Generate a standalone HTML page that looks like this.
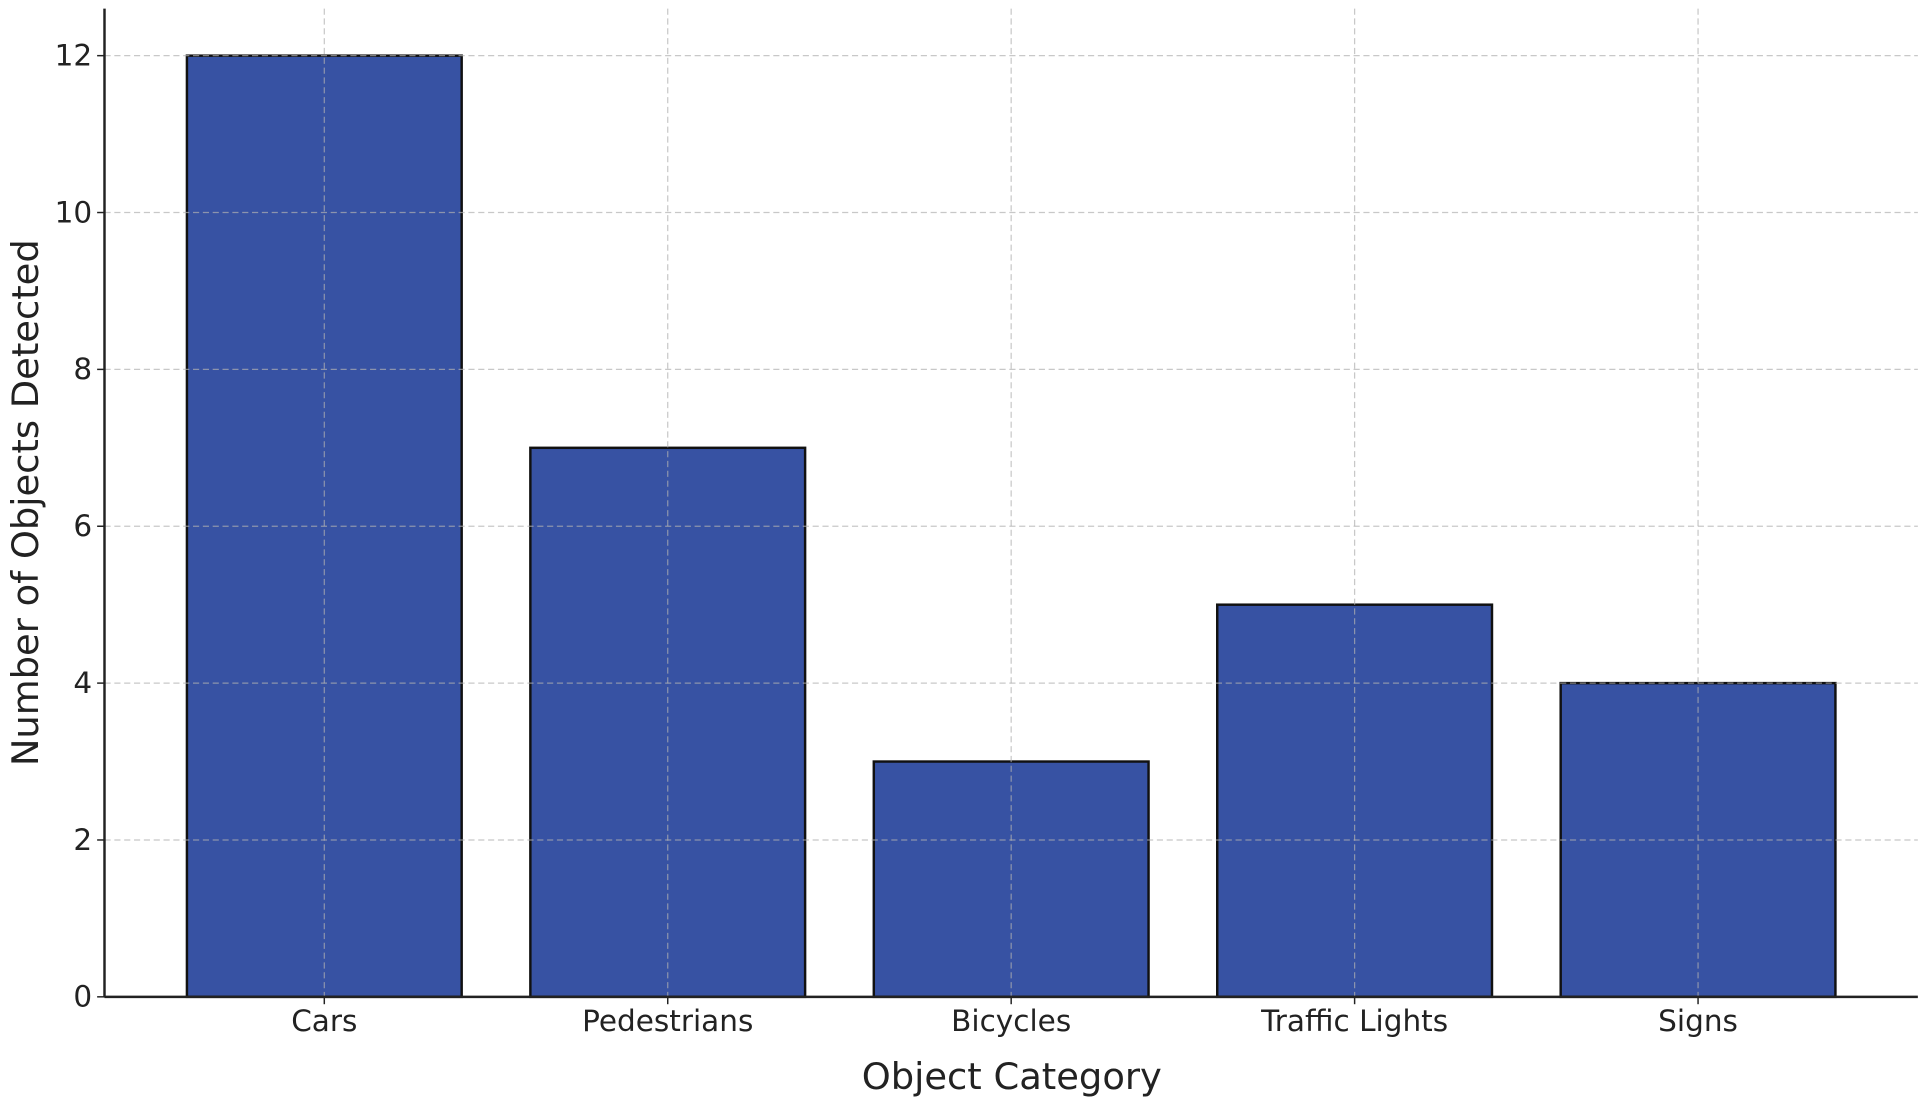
<!DOCTYPE html>
<html><head><meta charset="utf-8"><style>
html,body{margin:0;padding:0;background:#fff;}
svg{display:block;font-family:"DejaVu Sans","Liberation Sans",sans-serif;}
</style></head><body>
<svg id="chart" width="1924" height="1105" viewBox="0 0 1565 899" preserveAspectRatio="none" xmlns="http://www.w3.org/2000/svg">
<g id="bars"></g>
<g id="grid"></g>
<g id="axes"></g>
<text x="823" y="886" font-size="30" text-anchor="middle" fill="#222">Object Category</text>
<text transform="translate(31,409) rotate(-90)" font-size="30" text-anchor="middle" fill="#222">Number of Objects Detected</text>
</svg>
<script>
const categories = ["Cars","Pedestrians","Bicycles","Traffic Lights","Signs"];
const values = [12,7,3,5,4];
const yTicks = [0,2,4,6,8,10,12];
const NS="http://www.w3.org/2000/svg";
const L=85,R=1560,T=7,B=811;
const xMin=-0.64,xMax=4.64,yMin=0,yMax=12.6;
function x(v){return L+(v-xMin)/(xMax-xMin)*(R-L);}
function y(v){return B-(v-yMin)/(yMax-yMin)*(B-T);}
function mk(tag,attrs,parent){const e=document.createElementNS(NS,tag);for(const k in attrs)e.setAttribute(k,attrs[k]);parent.appendChild(e);return e;}
const gb=document.getElementById('bars'),gg=document.getElementById('grid'),ga=document.getElementById('axes');
const bw=0.8;
categories.forEach((c,i)=>{
  const x0=x(i-bw/2),x1=x(i+bw/2);
  const r=mk('rect',{x:x0,y:y(values[i]),width:x1-x0,height:y(0)-y(values[i]),fill:'#3752a3',stroke:'#111','stroke-width':2},gb);
  
  
  const gl=mk('line',{x1:x(i),x2:x(i),y1:T,y2:B,stroke:'#b0b0b0','stroke-opacity':0.7,'stroke-width':1,'stroke-dasharray':'5,3'},gg);
  
  
  const tk=mk('line',{x1:x(i),x2:x(i),y1:B,y2:B+6,stroke:'#222','stroke-width':1.2},ga);
  
  
  const t=mk('text',{x:x(i),y:B+28,'font-size':24,'text-anchor':'middle',fill:'#222'},ga);
  t.textContent=c;
  
  
});
yTicks.forEach(v=>{
  if(v>0){
    const gl=mk('line',{x1:L,x2:R,y1:y(v),y2:y(v),stroke:'#b0b0b0','stroke-opacity':0.7,'stroke-width':1,'stroke-dasharray':'5,3'},gg);
    
    
  }
  const tk=mk('line',{x1:L-6,x2:L,y1:y(v),y2:y(v),stroke:'#222','stroke-width':1.2},ga);
  
  
  const t=mk('text',{x:L-10,y:y(v)+8,'font-size':24,'text-anchor':'end',fill:'#222'},ga);
  t.textContent=v;
  
  
});
const ya=mk('line',{x1:L,x2:L,y1:T,y2:B,stroke:'#222','stroke-width':2},ga);


const xa=mk('line',{x1:L,x2:R,y1:B,y2:B,stroke:'#222','stroke-width':2},ga);


</script>
</body></html>
